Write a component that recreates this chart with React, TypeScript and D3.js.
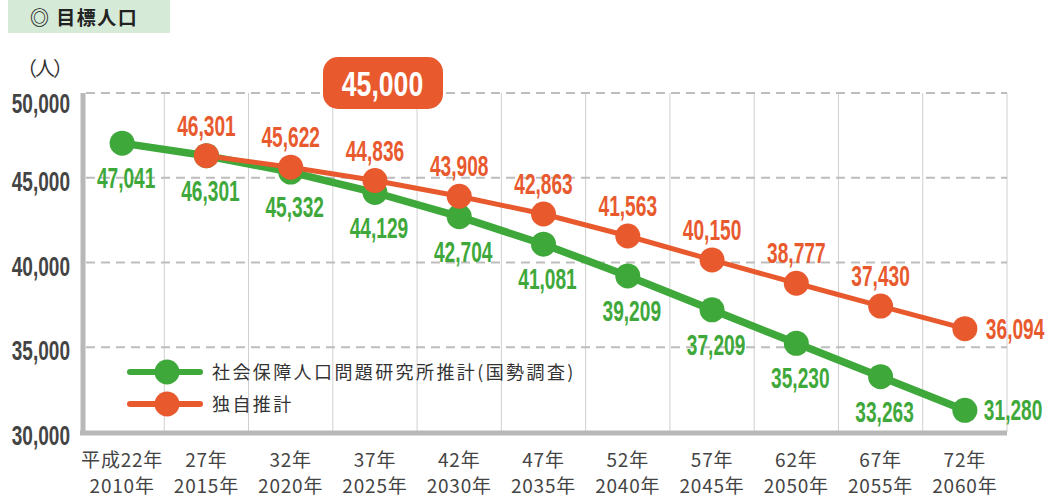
import React from "react";
import * as d3 from "d3";

const W = 1059;
const H = 499;

const warekiLabels = ["平成22年", "27年", "32年", "37年", "42年", "47年", "52年", "57年", "62年", "67年", "72年"];
const yearLabels = ["2010年", "2015年", "2020年", "2025年", "2030年", "2035年", "2040年", "2045年", "2050年", "2055年", "2060年"];
const ipssValues = [47041, 46301, 45332, 44129, 42704, 41081, 39209, 37209, 35230, 33263, 31280];
// own projection starts at 2015
const ownValues: (number | null)[] = [null, 46301, 45622, 44836, 43908, 42863, 41563, 40150, 38777, 37430, 36094];
const yTicks = [30000, 35000, 40000, 45000, 50000];
const seriesNames = ["社会保障人口問題研究所推計(国勢調査)", "独自推計"];
const targetLabel = "45,000";

const GREEN = "#3FA83B";
const ORANGE = "#E85A2E";
const GRID = "#BDBDBD";
const AXIS = "#B8B8B8";
const TEXT = "#444444";
const NUM_FONT = "'Liberation Sans', Arial, sans-serif";
const JP_FONT = "'Noto Sans CJK JP', 'Noto Sans', sans-serif";
const SQ = 0.66; // horizontal squeeze to mimic the condensed numeral face

const fmt = d3.format(",");

function Num(props: {
  x: number;
  y: number;
  text: string;
  size: number;
  fill: string;
  anchor?: "start" | "middle" | "end";
  sq?: number;
  bold?: boolean;
}) {
  const { x, y, text, size, fill, anchor = "middle", sq = SQ, bold = true } = props;
  return (
    <text
      transform={`translate(${x},${y}) scale(${sq},1)`}
      textAnchor={anchor}
      fontFamily={NUM_FONT}
      fontWeight={bold ? "bold" : "normal"}
      fontSize={size}
      fill={fill}
    >
      {text}
    </text>
  );
}

export default function App() {
  const left = 80;
  const right = 1007;
  const top = 93;
  const bottom = 432;

  const x = d3.scaleBand<number>().domain(d3.range(yearLabels.length)).range([left, right]).padding(0);
  const cx = (i: number) => (x(i) as number) + x.bandwidth() / 2;
  const y = d3.scaleLinear().domain([30000, 50000]).range([bottom, top]);

  const lineGen = d3
    .line<[number, number | null]>()
    .defined((d) => d[1] !== null)
    .x((d) => cx(d[0]))
    .y((d) => y(d[1] as number));

  const greenPath = lineGen(ipssValues.map((v, i) => [i, v]));
  const orangePath = lineGen(ownValues.map((v, i) => [i, v]));

  const last = yearLabels.length - 1;

  return (
    <svg width={W} height={H} style={{ display: "block", position: "absolute", left: 0, top: 0, background: "#fff" }}>
      {/* title */}
      <rect x={8} y={0} width={162} height={33} fill="#D6EBD7" />
      <text x={30} y={25} fontFamily={JP_FONT} fontWeight="bold" fontSize={19} letterSpacing={1.5} fill="#222">
        ◎ 目標人口
      </text>
      <text x={17} y={76} fontFamily={JP_FONT} fontSize={20} letterSpacing={-2} fill="#333">
        （人）
      </text>

      {/* vertical grid */}
      {d3.range(1, yearLabels.length).map((i) => (
        <line key={"vg" + i} x1={x(i)} x2={x(i)} y1={top} y2={bottom} stroke="#CFCFCF" strokeWidth={1} />
      ))}
      <line x1={right} x2={right} y1={top} y2={bottom} stroke="#CFCFCF" strokeWidth={1} />

      {/* horizontal dashed grid */}
      {yTicks.slice(1).map((t) => (
        <line key={"hg" + t} x1={left + 6} x2={right} y1={y(t)} y2={y(t)} stroke={GRID} strokeWidth={1.8} strokeDasharray="9,6" />
      ))}

      {/* axes */}
      <line x1={left + 3} x2={left + 3} y1={top} y2={bottom + 3} stroke={AXIS} strokeWidth={5} />
      <line x1={left} x2={right} y1={bottom + 1} y2={bottom + 1} stroke={AXIS} strokeWidth={5} />

      {/* y tick labels */}
      {yTicks.map((t) => (
        <Num key={"yt" + t} x={70} y={y(t) + (t === 50000 ? 20 : 13)} text={fmt(t)} size={28} fill={TEXT} anchor="end" sq={0.68} />
      ))}

      {/* x labels */}
      {warekiLabels.map((l, i) => (
        <g key={"xl" + i}>
          <text x={cx(i)} y={467} textAnchor="middle" fontFamily={JP_FONT} fontSize={19} letterSpacing={0.8} fill={TEXT}>
            {l}
          </text>
          <text x={cx(i)} y={493} textAnchor="middle" fontFamily={JP_FONT} fontSize={19} letterSpacing={0.8} fill={TEXT}>
            {yearLabels[i]}
          </text>
        </g>
      ))}

      {/* lines */}
      <path d={greenPath || ""} fill="none" stroke={GREEN} strokeWidth={7.5} />
      <path d={orangePath || ""} fill="none" stroke={ORANGE} strokeWidth={5} />

      {ipssValues.map((v, i) => (
        <circle key={"gc" + i} cx={cx(i)} cy={y(v)} r={12.5} fill={GREEN} />
      ))}
      {ownValues.map((v, i) =>
        v === null ? null : <circle key={"oc" + i} cx={cx(i)} cy={y(v)} r={12.5} fill={ORANGE} />
      )}

      {/* green labels */}
      {ipssValues.map((v, i) =>
        i === last ? (
          <Num key={"gl" + i} x={cx(i) + 19} y={y(v) + 10} text={fmt(v)} size={29} fill={GREEN} anchor="start" />
        ) : (
          <Num key={"gl" + i} x={cx(i) + 4} y={y(v) + 45} text={fmt(v)} size={29} fill={GREEN} />
        )
      )}

      {/* orange labels */}
      {ownValues.map((v, i) =>
        v === null ? null : i === last ? (
          <Num key={"ol" + i} x={cx(i) + 21} y={y(v) + 10} text={fmt(v)} size={29} fill={ORANGE} anchor="start" />
        ) : (
          <Num key={"ol" + i} x={cx(i)} y={y(v) - 20} text={fmt(v)} size={29} fill={ORANGE} />
        )
      )}

      {/* target badge */}
      <rect x={323} y={57} width={120} height={52} rx={15} fill={ORANGE} />
      <Num x={382.5} y={96} text={targetLabel} size={35} fill="#fff" sq={0.76} />

      {/* legend */}
      {[GREEN, ORANGE].map((c, k) => (
        <g key={"lg" + k} transform={`translate(0, ${372 + k * 32})`}>
          <line x1={130} x2={200} y1={0} y2={0} stroke={c} strokeWidth={6} strokeLinecap="round" />
          <circle cx={167} cy={0} r={12.5} fill={c} />
          <text x={212} y={6.5} fontFamily={JP_FONT} fontSize={18} letterSpacing={2.4} fill="#333">
            {seriesNames[k]}
          </text>
        </g>
      ))}
    </svg>
  );
}
